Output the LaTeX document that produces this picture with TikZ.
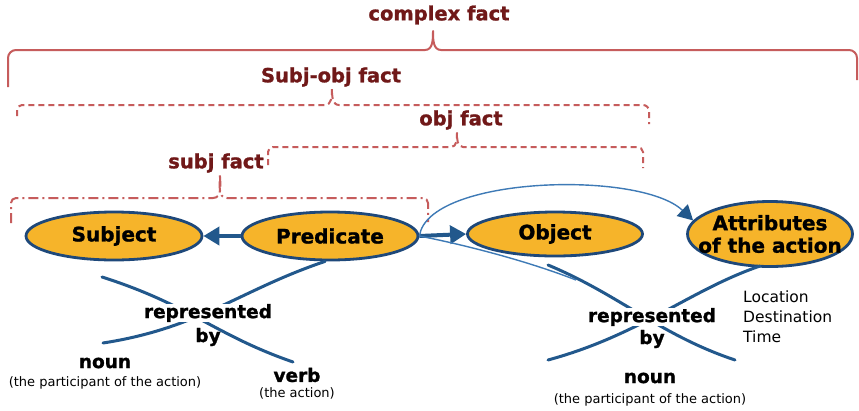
\documentclass[tikz,border=0pt]{standalone}
\usepackage{fontspec}
\setmainfont{DejaVu Sans}
\newfontfamily\heavyfont[FakeBold=1.2]{DejaVu Sans Bold}
\usetikzlibrary{arrows.meta,shapes.geometric}
\definecolor{factred}{RGB}{112,24,24}
\definecolor{bracered}{RGB}{198,92,92}
\definecolor{ellfill}{RGB}{246,180,42}
\definecolor{ellline}{RGB}{30,72,122}
\definecolor{arrblue}{RGB}{34,88,140}
\definecolor{thinblue}{RGB}{62,122,182}
\begin{document}
\begin{tikzpicture}[x=1pt,y=1pt,
  facttext/.style={text=factred, font=\fontsize{19.5}{22}\selectfont\heavyfont, inner sep=0pt},
  brace/.style={draw=bracered, line width=2pt, line join=round},
  dbrace/.style={brace, dash pattern=on 6pt off 4pt},
  ddbrace/.style={brace, dash pattern=on 10pt off 4pt on 2pt off 4pt},
  ell/.style={ellipse, draw=ellline, line width=2.8pt, fill=ellfill, inner sep=0pt},
  elltext/.style={font=\fontsize{20}{22.5}\selectfont\heavyfont, text=black, align=center, inner sep=0pt},
  bigarr/.style={draw=arrblue, line width=4pt, -{Triangle[length=16pt,width=18pt]}},
  thinarr/.style={draw=thinblue, line width=1.4pt, -{Triangle[length=15pt,width=16pt,color=arrblue]}},
  thinline/.style={draw=thinblue, line width=1.4pt},
  xline/.style={draw=arrblue, line width=3pt, line cap=round},
  reptext/.style={font=\fontsize{18.5}{21}\selectfont\heavyfont, text=black, inner sep=0pt},
  smalltext/.style={font=\fontsize{13}{15}\selectfont, text=black, inner sep=0pt},
  attrtext/.style={font=\fontsize{15.5}{20}\selectfont, text=black, inner sep=0pt, align=left, anchor=west}
]
\fill[white] (0,0) rectangle (859,-410);
\useasboundingbox (0,0) rectangle (859,-410);

% braces
\draw[brace] (8,-87) -- (8,-58) to[out=90,in=180] (16,-50) -- (425,-50)
  to[out=0,in=-90] (433,-31) to[out=-90,in=180] (441,-50) -- (849,-50)
  to[out=0,in=90] (857,-58) -- (857,-80);
\draw[dbrace] (17,-116) -- (17,-110) to[out=90,in=180] (22,-105) -- (325,-105)
  to[out=0,in=-90] (332,-89) to[out=-90,in=180] (339,-105) -- (643,-105)
  to[out=0,in=90] (649,-111) -- (649,-124);
\draw[dbrace] (268,-165) -- (268,-152) to[out=90,in=180] (273,-147) -- (451,-147)
  to[out=0,in=-90] (457,-133) to[out=-90,in=180] (463,-147) -- (637,-147)
  to[out=0,in=90] (643,-152) -- (643,-168);
\draw[ddbrace] (11,-223) -- (11,-203) to[out=90,in=180] (16,-198) -- (213,-198)
  to[out=0,in=-90] (220,-174) to[out=-90,in=180] (227,-198) -- (423,-198)
  to[out=0,in=90] (428,-203) -- (428,-222);

\node[facttext] (complex) at (439,-15) {complex fact};
\node[facttext] (subjobj) at (331,-77) {Subj-obj fact};
\node[facttext] (objfact) at (461,-120) {obj fact};
\node[facttext] (subjfact) at (216,-163) {subj fact};

% X lines
\coordinate (a1) at (102,-277);
\coordinate (a2) at (293,-362);
\coordinate (b2) at (103,-343);
\coordinate (c1) at (548,-265);
\coordinate (c2) at (735,-360);
\coordinate (d1) at (760,-266);
\coordinate (d2) at (548,-360);
\coordinate (thinend) at (576,-280);

% ellipses
\node[ell, minimum width=176pt, minimum height=48pt, label={[elltext]center:Subject}] (subj) at (114,-236) {};
\node[ell, minimum width=176pt, minimum height=48pt, label={[elltext]center:Predicate}] (pred) at (330,-236) {};
\node[ell, minimum width=175pt, minimum height=44pt, label={[elltext]center:Object}] (obj) at (555,-234) {};
\node[ell, minimum width=165pt, minimum height=65pt, label={[elltext]center:Attributes\\of the action}] (attr) at (770,-234) {};

\draw[xline] (a1) .. controls (190,-305) and (215,-335) .. (a2);
\draw[xline] ([xshift=-5pt]pred.south) .. controls (240,-290) and (200,-328) .. (b2);
\draw[xline] (c1) .. controls (620,-295) and (660,-335) .. (c2);
\draw[xline] (d1) .. controls (690,-290) and (640,-335) .. (d2);

\draw[bigarr] (pred.west) -- (subj.east);
\draw[bigarr] (pred.east) -- (obj.west);
\draw[thinarr] (pred.east) .. controls (428,-176) and (640,-170) .. (attr.170);
\draw[thinline] (pred.east) .. controls (470,-246) and (530,-262) .. (thinend);

% texts
\node[reptext, fill=white] (rep1) at (208,-313) {represented};
\node[reptext] (by1) at (208,-337) {by};
\node[reptext] (noun1) at (105,-363) {noun};
\node[smalltext] (part1) at (105,-383) {(the participant of the action)};
\node[reptext] (verb) at (297,-375) {verb};
\node[smalltext] (act) at (297,-393) {(the action)};
\node[reptext, fill=white] (rep2) at (652,-317) {represented};
\node[reptext] (by2) at (652,-339) {by};
\node[reptext] (noun2) at (650,-378) {noun};
\node[smalltext] (part2) at (650,-400) {(the participant of the action)};
\node[attrtext] (loc) at (743,-297) {Location};
\node[attrtext] (dest) at (743,-317) {Destination};
\node[attrtext] (time) at (743,-337) {Time};
\end{tikzpicture}
\end{document}
